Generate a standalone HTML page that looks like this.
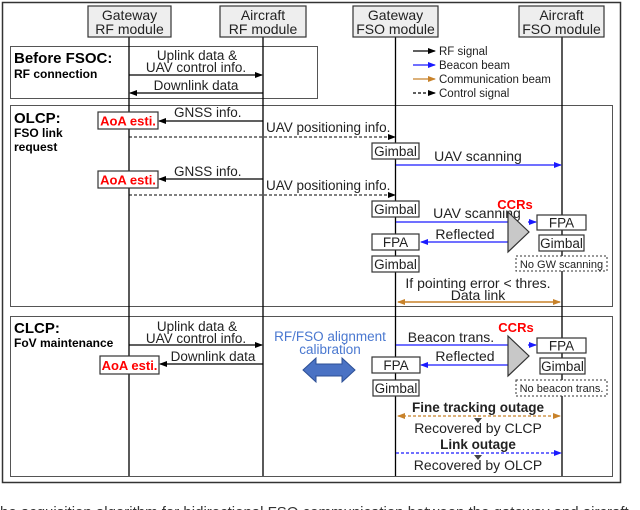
<!DOCTYPE html>
<html><head><meta charset="utf-8"><style>
html,body{margin:0;padding:0;background:#fff;width:640px;height:510px;overflow:hidden}
text{font-family:"Liberation Sans",Arial,sans-serif}
</style></head><body>
<svg width="640" height="510" viewBox="0 0 640 510" xmlns="http://www.w3.org/2000/svg">
<defs>
<marker id="ak" markerWidth="8" markerHeight="6" refX="7" refY="3" orient="auto" markerUnits="userSpaceOnUse"><path d="M0,0 L8,3 L0,6 Z" fill="#000"/></marker>
<marker id="ab" markerWidth="8" markerHeight="6" refX="7" refY="3" orient="auto" markerUnits="userSpaceOnUse"><path d="M0,0 L8,3 L0,6 Z" fill="#1a1aff"/></marker>
<marker id="ao" markerWidth="8" markerHeight="6" refX="7" refY="3" orient="auto" markerUnits="userSpaceOnUse"><path d="M0,0 L8,3 L0,6 Z" fill="#c8822a"/></marker>
<marker id="aos" markerWidth="8" markerHeight="6" refX="1" refY="3" orient="auto" markerUnits="userSpaceOnUse"><path d="M8,0 L0,3 L8,6 Z" fill="#c8822a"/></marker>
</defs>
<rect x="2.5" y="2.5" width="618" height="480" fill="none" stroke="#333" stroke-width="1.5"/>
<rect x="10.5" y="46.5" width="307" height="52" fill="#fff" stroke="#555" stroke-width="1"/>
<rect x="10.5" y="105.5" width="602" height="201" fill="#fff" stroke="#555" stroke-width="1"/>
<rect x="10.5" y="316.5" width="602" height="160" fill="#fff" stroke="#555" stroke-width="1"/>
<g stroke="#000" stroke-width="1.3">
<line x1="129" y1="37" x2="129" y2="476"/>
<line x1="263" y1="37" x2="263" y2="476"/>
<line x1="395.5" y1="37" x2="395.5" y2="476"/>
<line x1="562" y1="37" x2="562" y2="476"/>
</g>
<g fill="#eee" stroke="#333" stroke-width="1.2">
<rect x="88" y="6" width="83" height="31"/>
<rect x="220" y="6" width="86" height="31"/>
<rect x="353" y="6" width="85" height="31"/>
<rect x="519" y="6" width="85" height="31"/>
</g>
<g font-size="14" text-anchor="middle" fill="#222">
<text x="129.5" y="20">Gateway</text><text x="129.5" y="34">RF module</text>
<text x="263" y="20">Aircraft</text><text x="263" y="34">RF module</text>
<text x="395.5" y="20">Gateway</text><text x="395.5" y="34">FSO module</text>
<text x="561.5" y="20">Aircraft</text><text x="561.5" y="34">FSO module</text>
</g>
<g stroke-width="1.3">
<line x1="413" y1="51" x2="435" y2="51" stroke="#000" marker-end="url(#ak)"/>
<line x1="413" y1="65" x2="435" y2="65" stroke="#1a1aff" marker-end="url(#ab)"/>
<line x1="413" y1="79" x2="435" y2="79" stroke="#c8822a" marker-end="url(#ao)"/>
<line x1="413" y1="93" x2="435" y2="93" stroke="#000" stroke-dasharray="3,2" marker-end="url(#ak)"/>
</g>
<g font-size="11.5" fill="#222">
<text x="439" y="55">RF signal</text><text x="439" y="69">Beacon beam</text>
<text x="439" y="83">Communication beam</text><text x="439" y="97">Control signal</text>
</g>
<text x="14" y="63" font-size="15" font-weight="bold">Before FSOC:</text>
<text x="14" y="78" font-size="12" font-weight="bold">RF connection</text>
<g font-size="13.5" text-anchor="middle" fill="#222">
<text x="197" y="60">Uplink data &amp;</text><text x="196" y="72">UAV control info.</text>
<text x="196" y="90">Downlink data</text>
</g>
<line x1="129" y1="75" x2="262" y2="75" stroke="#000" stroke-width="1.2" marker-end="url(#ak)"/>
<line x1="263" y1="93" x2="130" y2="93" stroke="#000" stroke-width="1.2" marker-end="url(#ak)"/>
<text x="14" y="123" font-size="15" font-weight="bold">OLCP:</text>
<text x="14" y="137" font-size="12" font-weight="bold">FSO link</text>
<text x="14" y="151" font-size="12" font-weight="bold">request</text>
<g font-size="13.5" fill="#222">
<text x="174" y="117">GNSS info.</text>
<text x="266" y="132">UAV positioning info.</text>
<text x="174" y="176">GNSS info.</text>
<text x="266" y="190">UAV positioning info.</text>
</g>
<line x1="263" y1="121" x2="159" y2="121" stroke="#000" stroke-width="1.2" marker-end="url(#ak)"/>
<line x1="129" y1="137" x2="395" y2="137" stroke="#000" stroke-width="1" stroke-dasharray="3,2" marker-end="url(#ak)"/>
<line x1="263" y1="179" x2="159" y2="179" stroke="#000" stroke-width="1.2" marker-end="url(#ak)"/>
<line x1="129" y1="195" x2="395" y2="195" stroke="#000" stroke-width="1" stroke-dasharray="3,2" marker-end="url(#ak)"/>
<g fill="#fff" stroke="#333" stroke-width="1.2">
<rect x="98" y="112" width="60" height="17"/>
<rect x="98" y="171" width="60" height="17"/>
<rect x="100" y="356" width="59" height="18"/>
</g>
<g font-size="13" font-weight="bold" fill="#f00" text-anchor="middle">
<text x="128" y="125.5">AoA esti.</text>
<text x="128" y="184.5">AoA esti.</text>
<text x="129.5" y="370">AoA esti.</text>
</g>
<g fill="#fff" stroke="#333" stroke-width="1.2">
<rect x="372" y="143" width="47" height="16"/>
<rect x="372" y="201" width="47" height="16"/>
<rect x="372" y="234" width="47" height="16"/>
<rect x="372" y="256" width="47" height="16"/>
<rect x="537" y="215" width="49" height="15"/>
<rect x="539" y="235" width="45" height="16"/>
<rect x="372" y="357" width="48" height="16"/>
<rect x="373" y="380" width="46" height="16"/>
<rect x="537" y="338" width="49" height="15"/>
<rect x="540" y="358" width="45" height="16"/>
</g>
<g fill="#fff" stroke="#333" stroke-width="1" stroke-dasharray="2,2">
<rect x="516" y="256" width="91" height="15"/>
<rect x="516" y="380" width="91" height="16"/>
</g>
<g font-size="13.5" fill="#222" text-anchor="middle">
<text x="395.5" y="156">Gimbal</text>
<text x="395.5" y="214">Gimbal</text>
<text x="395.5" y="247">FPA</text>
<text x="395.5" y="269">Gimbal</text>
<text x="561.5" y="227.5">FPA</text>
<text x="561.5" y="248">Gimbal</text>
<text x="396" y="370">FPA</text>
<text x="396" y="393">Gimbal</text>
<text x="561.5" y="350.5">FPA</text>
<text x="562.5" y="371">Gimbal</text>
</g>
<g font-size="11" fill="#222" text-anchor="middle">
<text x="561.5" y="268">No GW scanning</text>
<text x="561.5" y="392">No beacon trans.</text>
</g>
<g stroke="#1a1aff" stroke-width="1.3">
<line x1="396" y1="165" x2="561" y2="165" marker-end="url(#ab)"/>
<line x1="396" y1="222" x2="509" y2="222"/>
<line x1="528" y1="222" x2="536" y2="222" marker-end="url(#ab)"/>
<line x1="509" y1="242" x2="421" y2="242" marker-end="url(#ab)"/>
<line x1="396" y1="345" x2="509" y2="345"/>
<line x1="528" y1="345" x2="536" y2="345" marker-end="url(#ab)"/>
<line x1="509" y1="365" x2="421" y2="365" marker-end="url(#ab)"/>
<line x1="396" y1="453" x2="561" y2="453" stroke-dasharray="3,2" marker-end="url(#ab)"/>
</g>
<g font-size="14" fill="#222" text-anchor="middle">
<text x="478" y="161">UAV scanning</text>
<text x="477" y="218">UAV scanning</text>
<text x="465" y="239">Reflected</text>
<text x="451" y="342">Beacon trans.</text>
<text x="465" y="361">Reflected</text>
</g>
<path d="M508,212 L529,232 L508,252 Z" fill="#c8c8c8" stroke="#333" stroke-width="1.2"/>
<path d="M508,336 L529,356 L508,376 Z" fill="#c8c8c8" stroke="#333" stroke-width="1.2"/>
<g font-size="13" font-weight="bold" fill="#f00" text-anchor="middle">
<text x="515" y="209">CCRs</text>
<text x="516" y="332">CCRs</text>
</g>
<text x="478" y="288" font-size="14" fill="#222" text-anchor="middle">If pointing error &lt; thres.</text>
<text x="478" y="300" font-size="14" fill="#222" text-anchor="middle">Data link</text>
<line x1="398" y1="302" x2="560" y2="302" stroke="#c8822a" stroke-width="1.4" marker-start="url(#aos)" marker-end="url(#ao)"/>
<text x="14" y="333" font-size="15" font-weight="bold">CLCP:</text>
<text x="14" y="347" font-size="12" font-weight="bold">FoV maintenance</text>
<g font-size="13.5" text-anchor="middle" fill="#222">
<text x="197" y="331">Uplink data &amp;</text><text x="196" y="343">UAV control info.</text>
<text x="213" y="361">Downlink data</text>
</g>
<line x1="129" y1="345" x2="262" y2="345" stroke="#000" stroke-width="1.2" marker-end="url(#ak)"/>
<line x1="263" y1="364" x2="160" y2="364" stroke="#000" stroke-width="1.2" marker-end="url(#ak)"/>
<g font-size="13.5" fill="#4a78d0" text-anchor="middle">
<text x="330" y="341">RF/FSO alignment</text><text x="330" y="354">calibration</text>
</g>
<path d="M303,370 L316,358 L316,364 L342,364 L342,358 L355,370 L342,382 L342,376 L316,376 L316,382 Z" fill="#4a72c4" stroke="#2c4f95" stroke-width="1"/>
<text x="478" y="412" font-size="13.5" font-weight="bold" fill="#222" text-anchor="middle">Fine tracking outage</text>
<line x1="398" y1="416" x2="560" y2="416" stroke="#c8822a" stroke-width="1.2" stroke-dasharray="3,2" marker-start="url(#aos)" marker-end="url(#ao)"/>
<path d="M474,418 L482,418 L478,423 Z" fill="#444"/>
<text x="478" y="433" font-size="14" fill="#222" text-anchor="middle">Recovered by CLCP</text>
<text x="478" y="449" font-size="13.5" font-weight="bold" fill="#222" text-anchor="middle">Link outage</text>
<path d="M474,455 L482,455 L478,460 Z" fill="#444"/>
<text x="478" y="470" font-size="14" fill="#222" text-anchor="middle">Recovered by OLCP</text>
<text x="0" y="517" font-size="15" fill="#333">he acquisition algorithm for bidirectional FSO communication between the gateway and aircraft</text>
</svg>
</body></html>
